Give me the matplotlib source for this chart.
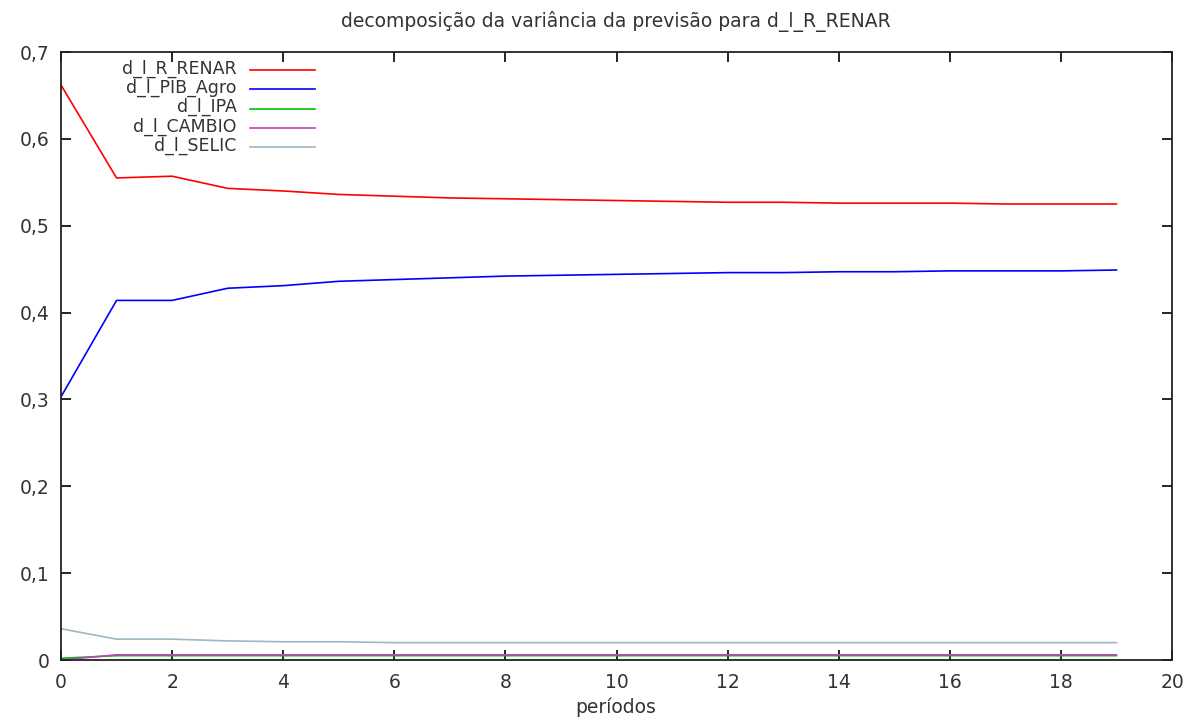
import matplotlib
matplotlib.use("Agg")
import matplotlib.pyplot as plt
from matplotlib.ticker import FuncFormatter, MultipleLocator

periods = list(range(20))
r_renar = [0.662, 0.555, 0.557, 0.543, 0.540, 0.536, 0.534, 0.532, 0.531, 0.530,
           0.529, 0.528, 0.527, 0.527, 0.526, 0.526, 0.526, 0.525, 0.525, 0.525]
pib_agro = [0.303, 0.414, 0.414, 0.428, 0.431, 0.436, 0.438, 0.440, 0.442, 0.443,
            0.444, 0.445, 0.446, 0.446, 0.447, 0.447, 0.448, 0.448, 0.448, 0.449]
ipa = [0.002, 0.005, 0.005, 0.005, 0.005, 0.005, 0.005, 0.005, 0.005, 0.005,
       0.005, 0.005, 0.005, 0.005, 0.005, 0.005, 0.005, 0.005, 0.005, 0.005]
cambio = [0.000, 0.006, 0.006, 0.006, 0.006, 0.006, 0.006, 0.006, 0.006, 0.006,
          0.006, 0.006, 0.006, 0.006, 0.006, 0.006, 0.006, 0.006, 0.006, 0.006]
selic = [0.036, 0.024, 0.024, 0.022, 0.021, 0.021, 0.020, 0.020, 0.020, 0.020,
         0.020, 0.020, 0.020, 0.020, 0.020, 0.020, 0.020, 0.020, 0.020, 0.020]

series = [
    ("d_l_R_RENAR", r_renar, "#ff0000"),
    ("d_l_PIB_Agro", pib_agro, "#0000ff"),
    ("d_l_IPA", ipa, "#00c000"),
    ("d_l_CAMBIO", cambio, "#c040c0"),
    ("d_l_SELIC", selic, "#a0b6c2"),
]

FS = 13.5
LFS = 12.5
TXT = "#333333"
plt.rcParams['font.family'] = ['DejaVu Sans']
fig = plt.figure(figsize=(11.89, 7.17), dpi=100)
ax = fig.add_axes([61/1189, 1 - 660/717, 1111/1189, 608/717])

for name, vals, col in series:
    ax.plot(periods, vals, color=col, lw=1.2)

ax.set_xlim(0, 20)
ax.set_ylim(0, 0.7)
ax.xaxis.set_major_locator(MultipleLocator(2))
ax.yaxis.set_major_locator(MultipleLocator(0.1))
ax.yaxis.set_major_formatter(FuncFormatter(lambda v, p: "0" if abs(v) < 1e-9 else f"{v:.1f}".replace(".", ",")))
ax.tick_params(direction="in", length=7, width=1.2, top=True, right=True,
               labelsize=FS, colors="black", labelcolor=TXT)
ax.tick_params(axis="x", pad=9)
ax.tick_params(axis="y", pad=8)
for s in ax.spines.values():
    s.set_linewidth(1.3)
    s.set_color("#222222")

fig.text(616/1189, 1 - 21/717, "decomposição da variância da previsão para d_l_R_RENAR",
         fontsize=FS, color=TXT, ha="center", va="center")
fig.text(616/1189, 4/717, "períodos", fontsize=FS, color=TXT, ha="center", va="baseline")

# legend (gnuplot style: right-aligned text, sample line to the right)
rows = [0.970, 0.939, 0.907, 0.875, 0.843]
for (name, vals, col), yy in zip(series, rows):
    ax.text(0.158, yy + 0.002, name, transform=ax.transAxes, ha="right", va="center",
            fontsize=LFS, color=TXT)
    ax.plot([0.170, 0.229], [yy, yy], transform=ax.transAxes, color=col, lw=1.2)

fig.savefig("out.png", dpi=100)
